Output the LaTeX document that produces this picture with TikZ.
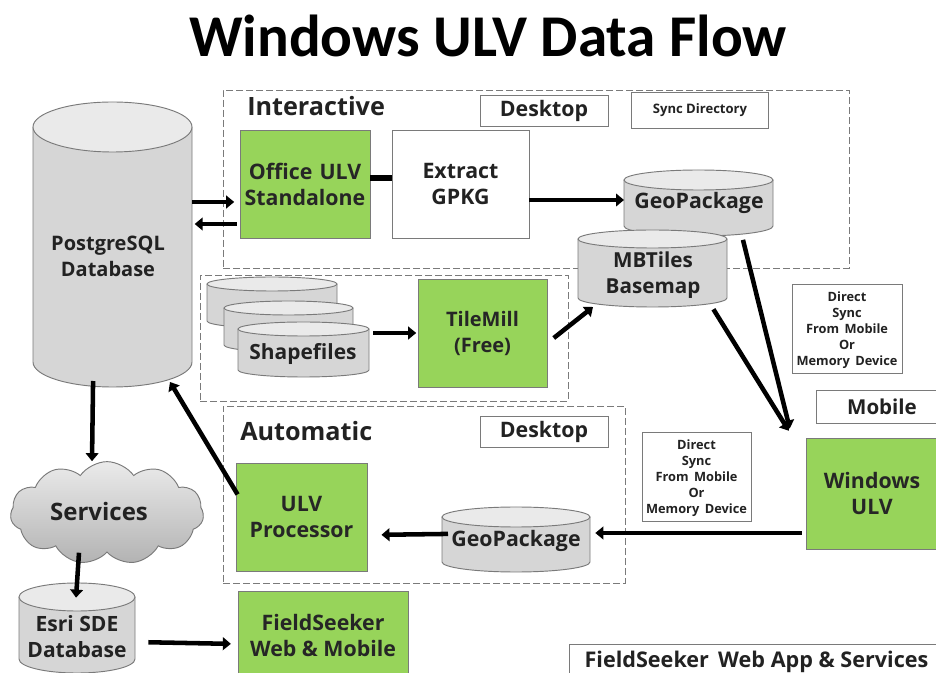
\documentclass[tikz,border=0pt]{standalone}
\usepackage{fontspec}
\setmainfont{Open Sans}
\newfontfamily\titlefont{Carlito}
\usetikzlibrary{shapes.symbols,arrows.meta}
\definecolor{grn}{HTML}{97D45A}
\definecolor{cyl}{HTML}{D6D6D6}
\definecolor{cyltop}{HTML}{EAEAEA}
\definecolor{ink}{HTML}{222222}
\definecolor{edge}{HTML}{7A7A7A}
\newcommand{\fs}[1]{\bfseries\fontsize{#1}{19.5}\selectfont}
\tikzset{
 px/.style={x=0.75pt,y=-0.75pt},
 gbox/.style={draw=edge,fill=grn,line width=0.7pt,align=center,font=\fs{16},text=black!85,inner sep=0pt,minimum height=81pt},
 wbox/.style={draw=edge,fill=white,line width=0.7pt,align=center,font=\fs{16},text=ink,inner sep=0pt},
 small/.style={draw=edge,fill=white,line width=0.7pt,align=center,font=\bfseries\fontsize{9.6}{12}\selectfont,text=ink,inner sep=0pt},
 smalltext/.style={align=center,font=\bfseries\fontsize{9.6}{12}\selectfont,text=ink,inner sep=0pt},
 region/.style={draw=edge,dash pattern=on 5pt off 2.5pt,line width=0.6pt},
 lab/.style={font=\fs{16},text=ink,align=center,inner sep=0pt},
 frame/.style={inner sep=0pt,outer sep=0pt},
 arr/.style={line width=3.4pt,black,-{Triangle[length=6pt,width=9.5pt]}},
 cy/.style={draw=edge,fill=cyl,line width=0.7pt},
 cytop/.style={draw=edge,fill=cyltop,line width=0.7pt},
}
% #1 name, #2 x0, #3 x1, #4 ellipse-centre y of top, #5 ellipse-centre y of bottom, #6 ry
\newcommand{\cyld}[6]{%
 \pgfmathsetmacro{\cylcx}{(#2+#3)/2}\pgfmathsetmacro{\cylrx}{(#3-#2)/2}
 \pgfmathsetmacro{\cylcy}{(#4+#5)/2}
 \pgfmathsetmacro{\cylw}{(#3-#2)*0.75}\pgfmathsetmacro{\cylh}{(#5-#4+2*#6)*0.75}
 \draw[cy] (#2,#4) -- (#2,#5) arc[start angle=180,end angle=360,x radius=\cylrx,y radius=-#6] -- (#3,#4);
 \draw[cytop] (\cylcx,#4) ellipse[x radius=\cylrx,y radius=#6];
 \node[frame,minimum width=\cylw pt,minimum height=\cylh pt] (#1) at (\cylcx,\cylcy) {};
}
\begin{document}
\begin{tikzpicture}[px]
\useasboundingbox (0,0) rectangle (936,673);
\fill[white] (0,0) rectangle (936,673);
\node[font=\titlefont\bfseries\fontsize{44.4}{50}\selectfont,text=black,inner sep=0pt] (title) at (488,36) {Windows ULV Data Flow};
% regions
\node[region,frame,minimum width=469.5pt,minimum height=133.5pt] (rint) at (536,179) {};
\node[region,frame,minimum width=276pt,minimum height=94.5pt] (rshp) at (384,338) {};
\node[region,frame,minimum width=301.5pt,minimum height=132.75pt] (raut) at (424,494.5) {};
% cylinders
\cyld{pg}{33}{192}{127}{362}{25}
\node[lab,font=\fs{15}] (pgl) at (108,256) {PostgreSQL\\Database};
\cyld{gp1}{624}{773}{180}{226}{10}
\node[lab] (gp1l) at (699,203) {GeoPackage};
\cyld{mb}{578}{727}{239}{298}{9}
\node[lab,font=\fs{15.5}] (mbl) at (653,275) {MBTiles\\Basemap};
\cyld{sa}{207}{337}{284}{321}{7}
\cyld{sb}{224}{353}{308}{345}{7}
\cyld{sc}{238}{369}{329}{370}{7}
\node[lab,font=\fs{15.7}] (shp) at (303,354) {Shapefiles};
\cyld{gp2}{442}{590}{517}{562}{10}
\node[lab] (gp2l) at (516,541) {GeoPackage};
\cyld{sde}{19}{135}{597}{659}{14}
\node[lab,font=\fs{15.8}] (sdel) at (77,637) {Esri SDE\\Database};
% boxes
\node[gbox,minimum width=97.5pt] (office) at (305,184) {Office\,\,ULV\\Standalone};
\node[wbox,minimum width=102.75pt,minimum height=81pt] (extract) at (460.5,184) {Extract\\GPKG};
\node[gbox,font=\fs{15},minimum width=96.75pt] (tilemill) at (482.5,333) {TileMill\\(Free)};
\node[gbox,minimum width=98.25pt] (proc) at (301.5,517) {ULV\\Processor};
\node[gbox,minimum width=99pt,minimum height=83.25pt] (win) at (872,493.5) {Windows\\ULV};
\node[gbox,minimum width=127.5pt,minimum height=66pt] (field) at (323,635) {FieldSeeker\\Web \& Mobile};
\node[lab,anchor=west,font=\fs{18.9}] (inter) at (247,106) {Interactive};
\node[lab,anchor=west,font=\fs{18.9}] (auto) at (240,431) {Automatic};
\node[wbox,minimum width=96pt,minimum height=23.25pt] (d1) at (544,110.5) {\raisebox{-1.5pt}{Desktop}};
\node[wbox,minimum width=96pt,minimum height=23.25pt] (d2) at (544,431.5) {\raisebox{-1.5pt}{Desktop}};
\node[small,minimum width=103pt,minimum height=27pt,font=\bfseries\fontsize{9.8}{11}\selectfont] (sync) at (700,110.5) {Sync Directory};
\node[small,minimum width=82.5pt,minimum height=66.75pt] (ds1) at (847,328.5) {};
\node[smalltext] (ds1t) at (847,330) {Direct\\Sync\\From\, Mobile\\Or\\Memory\, Device};
\node[small,minimum width=81.75pt,minimum height=66.75pt] (ds2) at (696.5,476.5) {};
\node[smalltext] (ds2t) at (696.5,478) {Direct\\Sync\\From\, Mobile\\Or\\Memory\, Device};
\node[wbox,font=\fs{15.4},minimum width=99pt,minimum height=24.75pt] (mob) at (882,406.5) {Mobile};
\node[wbox,minimum width=280.5pt,minimum height=25.5pt,anchor=north west,font=\fs{16.2}] (fs) at (569,644) {FieldSeeker\, Web App \& Services};
% cloud
\node[cloud,cloud puffs=11,cloud puff arc=110,aspect=1.95,draw=edge,top color=white!92!black,bottom color=black!30,line width=0.7pt,minimum width=145pt,minimum height=74pt,font=\fs{18},text=ink,inner sep=0pt] (svc) at (107,513) {\raisebox{2pt}{Services}\hspace*{12pt}};
% connectors
\draw[arr,shorten >=4pt] (pg.east |- 0,202) -- (office.west |- 0,202);
\draw[arr,shorten <=2pt,shorten >=2pt] (office.west |- 0,224) -- (pg.east |- 0,224);
\draw[line width=4.5pt,black] (office.east |- 0,178) -- (extract.west |- 0,178);
\draw[arr] (extract.east |- 0,200) -- (gp1.west |- 0,200);
\draw[arr,shorten <=3pt,shorten >=7pt] (742,0 |- gp1.south) -- (792,0 |- win.north);
\draw[arr,shorten <=2pt,shorten >=6pt] (712,0 |- mb.south) -- (793,0 |- win.north);
\draw[arr,shorten <=3pt,shorten >=1pt] (sc.east |- 0,333) -- (tilemill.west |- 0,333);
\draw[arr,shorten <=6pt] (tilemill.east |- 0,343) -- (593,0 |- mb.south);
\draw[arr,shorten <=3pt,shorten >=4pt] (win.west |- 0,533) -- (gp2.east |- 0,533);
\draw[arr,shorten <=-4.5pt,shorten >=10.5pt] (gp2.west |- 0,534) -- (proc.east |- 0,535);
\draw[arr,shorten <=-3pt] (proc.west |- 0,491) -- (170,382);
\draw[arr,shorten <=-4.5pt] (pg.south -| 93,0) -- (svc.north -| 92,0);
\draw[arr,shorten >=-11pt] (svc.south -| 79,0) -- (sde.north -| 77,0);
\draw[arr,shorten <=10pt,shorten >=5pt] (sde.east |- 0,642) -- (field.west |- 0,644);
\end{tikzpicture}
\end{document}
